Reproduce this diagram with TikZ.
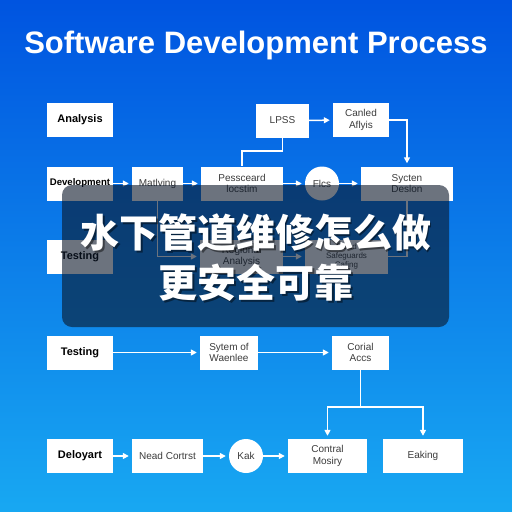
\documentclass[tikz,border=0pt]{standalone}
\usepackage{fontspec}
\setmainfont{Liberation Sans}
\newfontfamily\cjk{Noto Sans CJK SC}
\usetikzlibrary{arrows.meta,calc}
\definecolor{bgtop}{RGB}{0,84,224}
\definecolor{bgbot}{RGB}{24,168,242}
\definecolor{lbl}{RGB}{60,60,60}
\definecolor{veil}{RGB}{10,22,40}
\tikzset{
 box/.style={fill=white, draw=none, minimum height=34pt, inner sep=1pt, align=center, font=\fontsize{10}{11.5}\selectfont, text=lbl},
 stage/.style={box, minimum width=66pt, font=\bfseries\fontsize{11}{12}\selectfont, text=black},
 circ/.style={circle, fill=white, minimum size=34pt, inner sep=0pt, font=\fontsize{10}{11}\selectfont, text=lbl},
 link/.style={draw=white, line width=1.5pt},
 arr/.style={link, -{Triangle[length=6pt,width=6pt]}, shorten >=3pt},
 cntext/.style={font=\cjk\bfseries\fontsize{39}{39}\selectfont, text=white},
 cnshadow/.style={font=\cjk\bfseries\fontsize{39}{39}\selectfont, text=black, opacity=0.45},
}
\begin{document}
\begin{tikzpicture}[x=1pt,y=-1pt]
\shade[top color=bgtop,bottom color=bgbot] (0,0) rectangle (512,512);
\useasboundingbox (0,0) rectangle (512,512);
\node[font=\bfseries\fontsize{31}{31}\selectfont, text=white, anchor=base] (title) at (256,53) {Software Development Process};
% left column
\node[stage] (analysis) at (80,120) {Analysis};
\node[stage, font=\bfseries\fontsize{9.6}{11}\selectfont] (develop) at (80,183.5) {Development};
\node[stage] (testing1) at (80,256.5) {Testing};
\node[stage] (testing2) at (80,352.5) {Testing};
\node[stage] (deloyart) at (80,456) {Deloyart};
% row 1
\node[box, minimum width=53pt] (lpss) at (282.5,120.5) {LPSS};
\node[box, minimum width=56pt] (canled) at (361,120) {Canled\\Aflyis};
% row 2
\node[box, minimum width=51pt] (mathing) at (157.5,183.5) {Matlving};
\node[box, minimum width=82pt] (password) at (242,183.5) {Pessceard\\locstim};
\node[circ] (flcs) at (322,183.5) {Flcs};
\node[box, minimum width=92pt] (sysdes) at (407,183.5) {Sycten\\Deslon};
% row 3
\node[box, minimum width=83pt] (regional) at (241.5,256.5) {Regional\\Analysis};
\node[box, minimum width=83pt, font=\fontsize{8}{9}\selectfont] (cloud) at (346.5,256.5) {Cloud\\Safeguards\\Cafing};
% row 4
\node[box, minimum width=58pt] (sytem) at (229,352.5) {Sytem of\\Waenlee};
\node[box, minimum width=57pt] (corial) at (360.5,352.5) {Corial\\Accs};
% row 5
\node[box, minimum width=71pt] (nead) at (167.5,456) {Nead Cortrst};
\node[circ] (kak) at (246,456) {Kak};
\node[box, minimum width=79pt] (contral) at (327.5,456) {Contral\\Mosiry};
\node[box, minimum width=80pt] (eaking) at (423,456) {Eaking};
% connectors
\draw[arr] (develop) -- (mathing);
\draw[arr] (mathing) -- (password);
\draw[arr] (password) -- (flcs);
\draw[arr] (flcs) -- (sysdes);
\draw[arr] (lpss) -- (canled);
\draw[arr] (canled.east) -| (sysdes.north);
\coordinate (j1) at (242,151);
\draw[link] (lpss.south) |- (j1) -- (password.north);
\draw[arr] (mathing.south) |- (regional.west);
\draw[arr] (regional) -- (cloud);
\draw[link] (sysdes.south) |- (cloud.east);
\draw[arr] (testing2) -- (sytem);
\draw[arr] (sytem) -- (corial);
\coordinate (jc) at (360.5,407);
\draw[link] (corial.south) -- (jc);
\draw[arr] (jc) -| (contral.north);
\draw[arr] (jc) -| (eaking.north);
\draw[arr] (deloyart) -- (nead);
\draw[arr] (nead) -- (kak);
\draw[arr] (kak) -- (contral);
% overlay
\fill[veil, opacity=0.6, rounded corners=10pt] (62,185) rectangle (449,327);
\node[cnshadow] at (257.5,234.5) {水下管道维修怎么做};
\node[cnshadow] at (257.5,284.5) {更安全可靠};
\node[cntext] (cn1) at (256,233) {水下管道维修怎么做};
\node[cntext] (cn2) at (256,283) {更安全可靠};
\end{tikzpicture}
\end{document}
